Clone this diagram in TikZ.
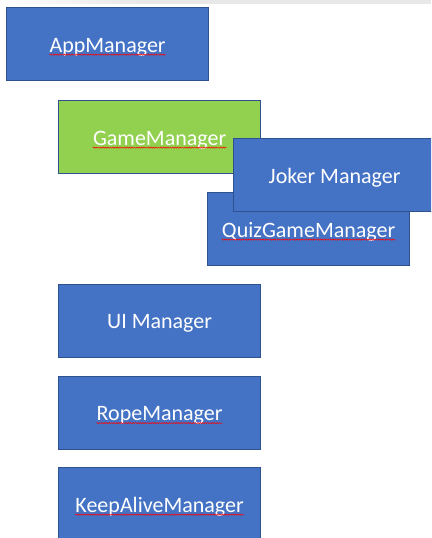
\documentclass[tikz,border=0pt]{standalone}
\usepackage{fontspec}
\setmainfont{Carlito}
\usetikzlibrary{decorations.pathmorphing}

\definecolor{mgrblue}{HTML}{4472C4}
\definecolor{mgredge}{HTML}{2F528F}
\definecolor{mgrgreen}{HTML}{92D050}

\begin{document}
\begin{tikzpicture}
	[x=1pt, y=-1pt,
	mgr/.style={draw=mgredge, line width=1.2pt, fill=mgrblue, minimum width=202pt, minimum height=73pt, inner sep=0pt, anchor=north west},
	lbl/.style={text=white, font=\fontsize{22}{26}\selectfont, inner sep=0pt, anchor=base},
	spell/.style={red, line width=0.5pt, decorate, decoration={snake, amplitude=0.6pt, segment length=2.4pt}}]

	% Page frame
	\useasboundingbox (0,0) rectangle (431,538);
	\clip (0,0) rectangle (431,538);
	\shade[left color=white, right color=gray!18] (0,0) rectangle (140,3.5);
	\fill[gray!18] (140,0) rectangle (431,3.5);

	% Manager boxes
	\node[mgr] (app) at (6,7) {};
	\node[mgr, fill=mgrgreen] (game) at (58,100) {};
	\node[mgr] (quiz) at (207,192) {};
	\node[mgr] (joker) at (233,138) {};
	\node[mgr] (ui) at (58,284) {};
	\node[mgr] (rope) at (58,376) {};
	\node[mgr] (keep) at (58,467) {};

	% Labels
	\node[lbl] (appT) at ([yshift=-8pt]app.center) {AppManager};
	\node[lbl] (gameT) at ([yshift=-8pt]game.center) {GameManager};
	\node[lbl] (quizT) at ([yshift=-8pt]quiz.center) {QuizGameManager};
	\node[lbl] (jokerT) at ([yshift=-8pt]joker.center) {Joker Manager};
	\node[lbl] (uiT) at ([yshift=-7pt]ui.center) {UI Manager};
	\node[lbl] (ropeT) at ([yshift=-7.5pt]rope.center) {RopeManager};
	\node[lbl] (keepT) at ([yshift=-8pt]keep.center) {KeepAliveManager};

	% Spell check marks
	\foreach \t in {appT,gameT,quizT,ropeT,keepT}
		\draw[spell] ([yshift=-2.5pt]\t.base west) -- ([yshift=-2.5pt]\t.base east);

\end{tikzpicture}
\end{document}
